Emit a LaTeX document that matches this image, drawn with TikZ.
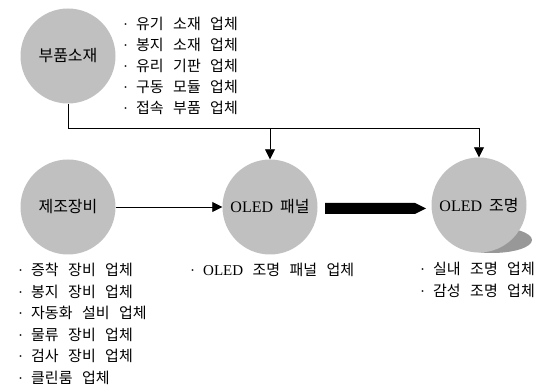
\documentclass[tikz,border=0pt]{standalone}
\usepackage{fontspec}
\setmainfont[WordSpace=2.8]{Noto Sans CJK KR}
\newfontfamily\lat{Liberation Serif}
\newcommand\dotitem{{\lat ·}\hspace{8pt}}
\usetikzlibrary{arrows.meta,calc}
\definecolor{circgray}{RGB}{192,192,192}
\definecolor{shadowgray}{RGB}{152,152,152}
\begin{document}
\begin{tikzpicture}[x=1pt,y=-1pt,
  ball/.style={circle,fill=circgray,minimum size=95pt,inner sep=0pt,font=\fontsize{16}{18}\selectfont},
  lst/.style={align=left,anchor=north west,inner sep=0pt,font=\fontsize{15}{21.5}\selectfont},
  conn/.style={line width=0.8pt,-{Triangle[width=10pt,length=10pt]}},
  wire/.style={line width=0.8pt}
]
\useasboundingbox (0,0) rectangle (544,387);
\fill[shadowgray] (492,240) ellipse [x radius=40, y radius=13];
\node[ball] (parts) at (68,56) {부품소재};
\node[ball] (equip) at (68,207) {제조장비};
\node[ball] (panel) at (270,207) {{\lat OLED}\hspace{7pt}패널};
\node[ball] (light) at (479,205) {{\lat OLED}\hspace{7pt}조명};

\node[lst, font=\fontsize{15}{21}\selectfont] (partslist) at (123,16.5) {\dotitem 유기 소재 업체\\\dotitem 봉지 소재 업체\\\dotitem 유리 기판 업체\\\dotitem 구동 모듈 업체\\\dotitem 접속 부품 업체};
\node[lst] (equiplist) at (18,263) {\dotitem 증착 장비 업체\\\dotitem 봉지 장비 업체\\\dotitem 자동화 설비 업체\\\dotitem 물류 장비 업체\\\dotitem 검사 장비 업체\\\dotitem 클린룸 업체};
\node[lst] (panellist) at (190,263) {\dotitem{\lat OLED} 조명 패널 업체};
\node[lst] (lightlist) at (420,262) {\dotitem 실내 조명 업체\\\dotitem 감성 조명 업체};

\coordinate (j2) at (270,128);
\coordinate (j3) at (479,128);
\draw[wire] (parts.south) |- (j3);
\draw[conn] (j2) -- (panel.north);
\draw[conn] (j3) -- (light.north);
\draw[conn] (equip.east) -- (panel.west);

\coordinate (tA) at (325,208.5);
\coordinate (tB) at (426,208.5);
\fill ($(tA)+(0,-5.5)$) -- ($(tB)+(-11,-5.5)$) -- (tB) -- ($(tB)+(-11,5.5)$) -- ($(tA)+(0,5.5)$) -- cycle;
\end{tikzpicture}
\end{document}
